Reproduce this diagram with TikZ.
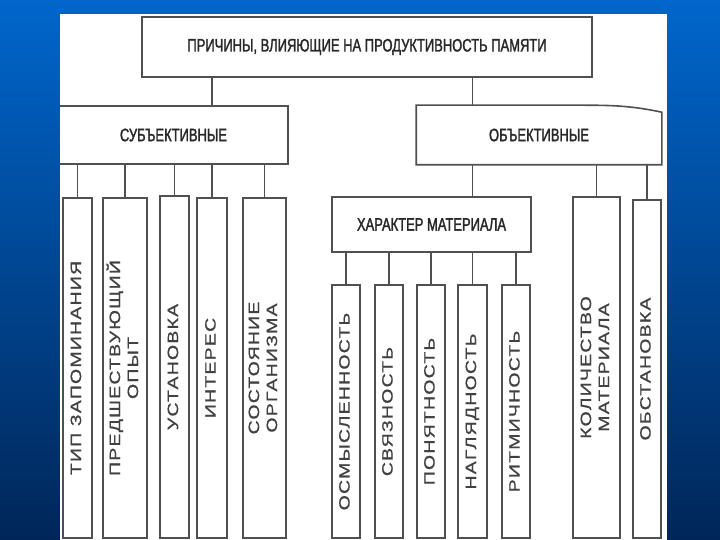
\documentclass[tikz,border=0pt]{standalone}
\usepackage{fontspec}
\setmainfont{Liberation Sans}
\newfontfamily\condfont[FakeStretch=0.72,FakeBold=1.6]{Liberation Sans}
\newfontfamily\widefont[FakeStretch=1.3,LetterSpace=8,FakeBold=0.8]{Liberation Sans}
\definecolor{bgtop}{RGB}{0,102,204}
\definecolor{bgbot}{RGB}{0,38,88}
\definecolor{linegray}{RGB}{80,80,80}
\definecolor{textgray}{RGB}{40,40,40}
\definecolor{vtextgray}{RGB}{65,65,65}
\tikzset{
  box/.style={draw=linegray, line width=1.6pt, fill=white, inner sep=0pt, text=textgray, align=center},
  headbox/.style={box, font=\condfont\fontsize{18}{20}\selectfont},
  vbox/.style={box, text=vtextgray, font=\widefont\fontsize{15}{18}\selectfont},
  link/.style={draw=linegray, line width=1.2pt}
}
\newcommand{\vtext}[1]{\rotatebox{90}{\begin{tabular}{@{}c@{}}#1\end{tabular}}}
\begin{document}
\begin{tikzpicture}[x=1pt,y=-1pt]
\useasboundingbox (0,0) rectangle (720,540);
\shade[top color=bgtop, bottom color=bgbot] (0,0) rectangle (720,540);
\fill[white] (60,14) rectangle (667,540);

% top
\node[headbox, line width=2.2pt, minimum width=450pt, minimum height=60pt] (title) at (367,47) {ПРИЧИНЫ, ВЛИЯЮЩИЕ НА ПРОДУКТИВНОСТЬ ПАМЯТИ};

% subjective
\node[headbox, draw=none, minimum width=227pt, minimum height=56pt] (subj) at (173.5,135) {СУБЪЕКТИВНЫЕ};
\draw[draw=linegray, line width=1.6pt] (subj.north west) -- (subj.north east) -- (subj.south east) -- (subj.south west);

% objective
\node[headbox, draw=none, minimum width=244pt, minimum height=58pt] (obj) at (539,135) {ОБЪЕКТИВНЫЕ};
\draw[draw=linegray, line width=1.6pt] (obj.north west) -- ([xshift=-90pt]obj.north east) to[out=0,in=168] ([yshift=-7pt]obj.north east) -- (obj.south east) -- (obj.south west) -- cycle;

% subjective children
\node[vbox, minimum width=29pt, minimum height=340pt] (s1) at (77.5,368) {\vtext{ТИП ЗАПОМИНАНИЯ}};
\node[vbox, minimum width=44pt, minimum height=340pt] (s2) at (125,368) {\vtext{ПРЕДШЕСТВУЮЩИЙ\\ОПЫТ}};
\node[vbox, minimum width=29pt, minimum height=342pt] (s3) at (174.5,367) {\vtext{УСТАНОВКА}};
\node[vbox, minimum width=30pt, minimum height=340pt] (s4) at (212,368) {\vtext{ИНТЕРЕС}};
\node[vbox, minimum width=43pt, minimum height=340pt] (s5) at (264.5,368) {\vtext{СОСТОЯНИЕ\\ОРГАНИЗМА}};

% character of material
\node[headbox, minimum width=199pt, minimum height=55pt] (char) at (431.5,224.5) {ХАРАКТЕР МАТЕРИАЛА};
\node[vbox, minimum width=28pt, minimum height=253pt] (m1) at (346,411.5) {\vtext{ОСМЫСЛЕННОСТЬ}};
\node[vbox, minimum width=28pt, minimum height=253pt] (m2) at (389,411.5) {\vtext{СВЯЗНОСТЬ}};
\node[vbox, minimum width=28pt, minimum height=253pt] (m3) at (431,411.5) {\vtext{ПОНЯТНОСТЬ}};
\node[vbox, minimum width=29pt, minimum height=253pt] (m4) at (472.5,411.5) {\vtext{НАГЛЯДНОСТЬ}};
\node[vbox, minimum width=28pt, minimum height=253pt] (m5) at (516,411.5) {\vtext{РИТМИЧНОСТЬ}};

% objective right children
\node[vbox, minimum width=47pt, minimum height=341pt] (o1) at (596.5,367.5) {\vtext{КОЛИЧЕСТВО\\МАТЕРИАЛА}};
\node[vbox, minimum width=28pt, minimum height=338pt] (o2) at (647,369) {\vtext{ОБСТАНОВКА}};

% connectors
\draw[link] (title.south -| s4) -- (subj.north -| s4);
\draw[link] ([xshift=41pt]char.north |- title.south) -- ([xshift=41pt]char.north |- obj.north);
\draw[link] ([xshift=41pt]char.north |- obj.south) -- ([xshift=41pt]char.north);
\foreach \n in {s1,s2,s3,s4,s5} \draw[link] (\n.north) -- (\n.north |- subj.south);
\foreach \n in {m1,m2,m3,m4,m5} \draw[link] (\n.north) -- (\n.north |- char.south);
\foreach \n in {o1,o2} \draw[link] (\n.north) -- (\n.north |- obj.south);
\end{tikzpicture}
\end{document}
